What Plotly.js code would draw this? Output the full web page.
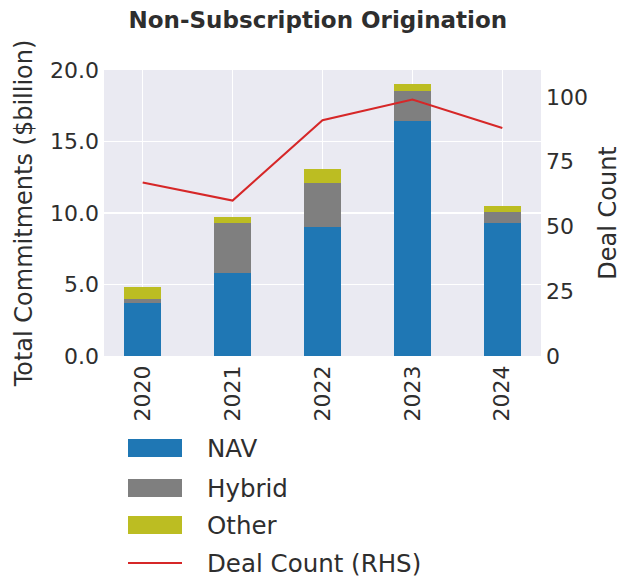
<!DOCTYPE html>
<html>
<head>
<meta charset="utf-8">
<script src="https://cdn.plot.ly/plotly-3.0.1.min.js"></script>
<style>html,body{margin:0;padding:0;background:#fff;}#chart{width:622px;height:581px;}</style>
</head>
<body>
<div id="chart"></div>
<script>
const years = ['2020', '2021', '2022', '2023', '2024'];
const navValues = [3.7, 5.8, 9.0, 16.4, 9.3];
const hybridValues = [0.3, 3.5, 3.1, 2.1, 0.8];
const otherValues = [0.8, 0.4, 1.0, 0.5, 0.4];
const dealCount = [67, 60, 91, 99, 88];
const leftTicks = [0, 5, 10, 15, 20];
const rightTicks = [0, 25, 50, 75, 100];
const seriesNames = ['NAV', 'Hybrid', 'Other', 'Deal Count (RHS)'];
const seriesColors = ['#1f77b4', '#7f7f7f', '#bcbd22', '#d62728'];

const FONT = 'DejaVu Sans, Liberation Sans, Arial, sans-serif';
const TXT = '#2e2e2e';

const barW = 0.41;
const traces = [
  {type: 'bar', x: years, y: navValues, name: seriesNames[0], marker: {color: seriesColors[0]}, width: barW, showlegend: false},
  {type: 'bar', x: years, y: hybridValues, name: seriesNames[1], marker: {color: seriesColors[1]}, width: barW, showlegend: false},
  {type: 'bar', x: years, y: otherValues, name: seriesNames[2], marker: {color: seriesColors[2]}, width: barW, showlegend: false},
  {type: 'scatter', mode: 'lines', x: years, y: dealCount, yaxis: 'y2', name: seriesNames[3], line: {color: seriesColors[3], width: 2}, showlegend: false}
];

// custom legend (swatches + labels) in pixel-like paper coordinates
const W = 622, H = 581;
const mL = 104, mR = 81, mT = 70, mB = 225;
const pw = W - mL - mR, ph = H - mT - mB;
function px2x(p) { return (p - mL) / pw; }
function py2y(p) { return (H - mB - p) / ph; }
const legendY = [448, 488, 525, 563];
const shapes = [];
const annotations = [];
for (let i = 0; i < 4; i++) {
  if (i < 3) {
    shapes.push({type: 'rect', xref: 'paper', yref: 'paper', x0: px2x(128), x1: px2x(182), y0: py2y(legendY[i] + 9), y1: py2y(legendY[i] - 9), fillcolor: seriesColors[i], line: {width: 0}});
  } else {
    shapes.push({type: 'line', xref: 'paper', yref: 'paper', x0: px2x(128), x1: px2x(182), y0: py2y(legendY[i]), y1: py2y(legendY[i]), line: {color: seriesColors[i], width: 2}});
  }
  annotations.push({xref: 'paper', yref: 'paper', x: px2x(205), y: py2y(legendY[i]), xanchor: 'left', yanchor: 'middle', text: seriesNames[i], showarrow: false, font: {family: FONT, size: 24.5, color: TXT}});
}

const layout = {
  width: W, height: H,
  margin: {l: mL, r: mR, t: mT, b: mB},
  paper_bgcolor: '#ffffff',
  plot_bgcolor: '#eaeaf2',
  barmode: 'stack',
  showlegend: false,
  title: {text: '<b>Non-Subscription Origination</b>', font: {family: FONT, size: 23, color: TXT}, xref: 'container', x: 0.511, xanchor: 'center', yref: 'container', y: 1 - 20 / H, yanchor: 'middle'},
  xaxis: {
    type: 'category', range: [-0.43, 4.43], tickangle: -90,
    showgrid: true, gridcolor: '#ffffff', gridwidth: 1.5,
    zeroline: false, showline: false, ticks: '',
    tickfont: {family: FONT, size: 22, color: TXT}, ticklabelstandoff: 4
  },
  yaxis: {
    range: [0, 20], tickvals: leftTicks, ticktext: leftTicks.map(v => v.toFixed(1)),
    showgrid: true, gridcolor: '#ffffff', gridwidth: 1.5,
    zeroline: false, showline: false, ticks: '',
    tickfont: {family: FONT, size: 22, color: TXT}, ticklabelstandoff: 4,
    title: {text: 'Total Commitments ($billion)', font: {family: FONT, size: 24, color: TXT}, standoff: 10}
  },
  yaxis2: {
    overlaying: 'y', side: 'right', range: [0, 110.4], tickvals: rightTicks,
    showgrid: false, zeroline: false, showline: false, ticks: '',
    tickfont: {family: FONT, size: 22, color: TXT}, ticklabelstandoff: 4,
    title: {text: 'Deal Count', font: {family: FONT, size: 24, color: TXT}, standoff: 14}
  },
  shapes: shapes,
  annotations: annotations
};

Plotly.newPlot('chart', traces, layout, {displayModeBar: false, staticPlot: true});
</script>
</body>
</html>
